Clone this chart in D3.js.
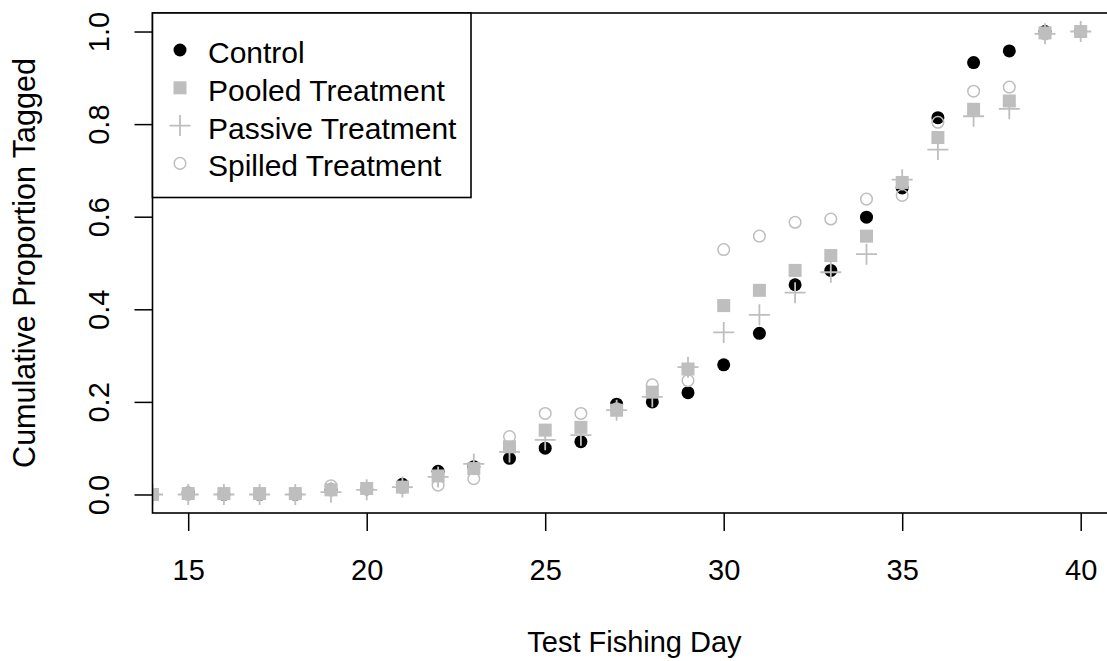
<!DOCTYPE html>
<html>
<head>
<meta charset="utf-8">
<script src="https://cdn.jsdelivr.net/npm/d3@7"></script>
<style>
  html, body { margin: 0; padding: 0; background: #fff; }
  svg text { font-family: "Liberation Sans", Arial, sans-serif; fill: #000; }
</style>
</head>
<body>
<svg id="chart" width="1107" height="661"></svg>
<script>
const days = [14,15,16,17,18,19,20,21,22,23,24,25,26,27,28,29,30,31,32,33,34,35,36,37,38,39,40];
const control = [0,0.003,0,0,0,0.01,0.012,0.022,0.05,0.06,0.078,0.10,0.114,0.195,0.20,0.22,0.28,0.348,0.453,0.484,0.599,0.662,0.814,0.933,0.958,1.0,1.0];
const pooled  = [0,0.002,0.002,0.002,0.002,0.01,0.013,0.016,0.04,0.056,0.103,0.139,0.145,0.182,0.221,0.271,0.408,0.441,0.484,0.516,0.558,0.674,0.771,0.832,0.85,0.997,1.0];
const passive = [0,0,0,0,0,0.005,0.01,0.016,0.038,0.066,0.092,0.118,0.128,0.182,0.211,0.275,0.35,0.388,0.436,0.48,0.519,0.68,0.745,0.817,0.833,0.995,1.0];
const spilled = [0,0,0,0,0,0.019,0.013,0.015,0.02,0.034,0.125,0.175,0.175,0.185,0.237,0.246,0.529,0.558,0.588,0.595,0.638,0.646,0.804,0.871,0.88,0.995,1.0];
const xTicks = [15,20,25,30,35,40];
const yTicks = [0,0.2,0.4,0.6,0.8,1.0];
const seriesNames = ["Control","Pooled Treatment","Passive Treatment","Spilled Treatment"];

(function () {
const svg = d3.select("#chart");
const GREY = "#bebebe";
const FS = 29;

const x = d3.scaleLinear().domain([14, 41]).range([152.5, 1116.4]);
const y = d3.scaleLinear().domain([-0.04, 1.04]).range([513, 13]);

const pL = x(14), pR = x(41), pT = y(1.04), pB = y(-0.04);

svg.append("defs").append("clipPath").attr("id","plotclip")
  .append("rect").attr("x", pL).attr("y", pT).attr("width", pR-pL).attr("height", pB-pT);

function drawSym(g, type, cx, cy) {
  if (type === 0) {
    g.append("circle").attr("cx", cx).attr("cy", cy).attr("r", 6.5).attr("fill", "#000");
  } else if (type === 1) {
    g.append("rect").attr("x", cx-6.5).attr("y", cy-6.5).attr("width", 13).attr("height", 13).attr("fill", GREY);
  } else if (type === 2) {
    g.append("path").attr("d", `M${cx-10.5},${cy}H${cx+10.5}M${cx},${cy-10.5}V${cy+10.5}`)
      .attr("stroke", GREY).attr("stroke-width", 1.8).attr("fill", "none");
  } else {
    g.append("circle").attr("cx", cx).attr("cy", cy).attr("r", 5.8)
      .attr("fill", "none").attr("stroke", GREY).attr("stroke-width", 1.5);
  }
}

const pts = svg.append("g").attr("clip-path", "url(#plotclip)");
[control, pooled, passive, spilled].forEach((vals, si) => {
  const g = pts.append("g");
  days.forEach((d, i) => drawSym(g, si, x(d), y(vals[i])));
});

const xAxis = d3.axisBottom(x).tickValues(xTicks).tickSize(18).tickSizeOuter(0).tickFormat(d3.format("d"));
const gx = svg.append("g").attr("transform", `translate(0,${pB})`).call(xAxis);
gx.select(".domain").remove();
gx.attr("font-family", null).attr("font-size", null);
gx.selectAll(".tick line").attr("stroke", "#000").attr("stroke-width", 1.5);
gx.selectAll(".tick text").attr("font-size", FS).attr("dy", null).attr("y", 67).attr("fill", "#000");

const yAxis = d3.axisLeft(y).tickValues(yTicks).tickSize(18).tickSizeOuter(0);
const gy = svg.append("g").attr("transform", `translate(${pL},0)`).call(yAxis);
gy.select(".domain").remove();
gy.attr("font-family", null).attr("font-size", null);
gy.selectAll(".tick line").attr("stroke", "#000").attr("stroke-width", 1.5);
gy.selectAll(".tick text").remove();
gy.selectAll(".tick").append("text")
  .attr("transform", "translate(-44,0) rotate(-90)")
  .attr("text-anchor", "middle")
  .attr("font-size", FS)
  .text(d => d3.format(".1f")(d));

svg.append("rect").attr("x", pL).attr("y", pT).attr("width", pR-pL).attr("height", pB-pT)
  .attr("fill", "none").attr("stroke", "#000").attr("stroke-width", 1.6);

svg.append("text").attr("x", (pL+pR)/2).attr("y", 652).attr("text-anchor", "middle")
  .attr("font-size", FS).text("Test Fishing Day");
svg.append("text").attr("transform", `translate(35,${(pT+pB)/2}) rotate(-90)`).attr("text-anchor", "middle")
  .attr("font-size", 30.5).text("Cumulative Proportion Tagged");

const lg = svg.append("g");
lg.append("rect").attr("x", pL).attr("y", pT).attr("width", 471-pL).attr("height", 197.5-pT)
  .attr("fill", "#fff").attr("stroke", "#000").attr("stroke-width", 1.6);
seriesNames.forEach((name, i) => {
  const cy = 50 + i*37.8;
  drawSym(lg, i, 180, cy);
  lg.append("text").attr("x", 208).attr("y", cy + 13).attr("font-size", 30).text(name);
});
})();
</script>
</body>
</html>
